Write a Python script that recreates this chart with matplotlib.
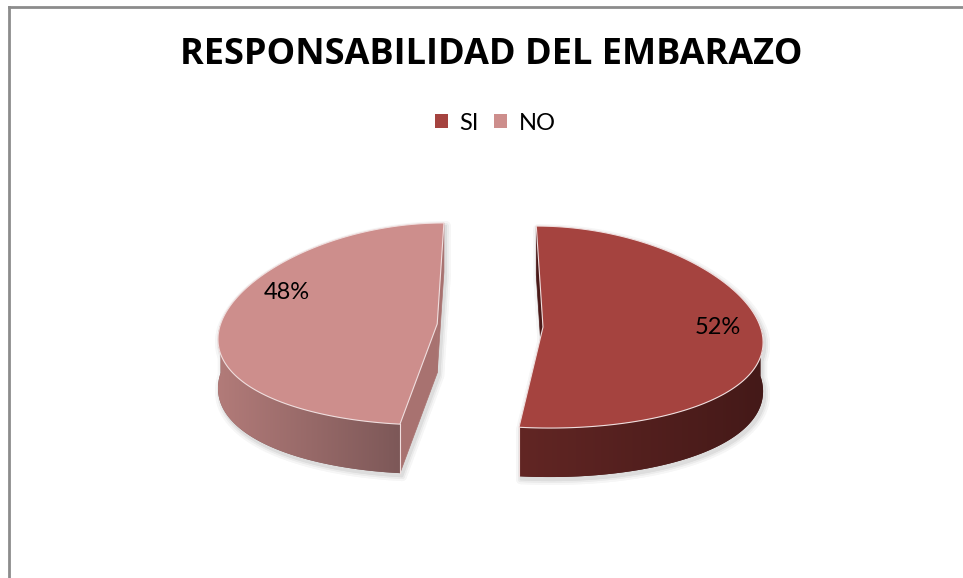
import numpy as np
import matplotlib.pyplot as plt
from matplotlib.colors import LinearSegmentedColormap
from matplotlib.patches import Polygon, Patch
from matplotlib.lines import Line2D

labels = ['SI', 'NO']
values = [52, 48]
top_colors = ['#A5433F', '#CD8E8C']
side_colors = [('#622624', '#441918'), ('#B27B79', '#7D5858')]
cut_colors = ['#4A1A19', '#A87270']

title = 'RESPONSABILIDAD DEL EMBARAZO'

W, H = 963, 578
CX, CY = 490, 325.5      # pie centre (pixels)
RX, RY = 217, 101        # ellipse radii
DEPTH = 49
EXPLODE = 53
PERSP = 0.127            # front wider than back
LABEL_R = [0.8, 0.7]
LABEL_DY = [-5, -27]
EDGE = '#f0dede'
SHADOW = [(7, '#f6f6f6'), (4, '#ebebeb'), (1.5, '#dddddd')]
SHADOW_OFF = (2, 3)


def to_screen(X, v, z=0.0):
    # v: -1 back .. +1 front of the ellipse, z: 0 top face, 1 bottom
    x = CX + (X - CX) * (1 + PERSP * v)
    y = CY + v * RY + z * DEPTH
    return x, y


def rim(ox, ov, t, z=0.0):
    t = np.radians(t)
    return to_screen(CX + ox + RX * np.sin(t), ov - np.cos(t), z)


def shoelace(pts):
    x, y = np.array(pts).T
    return 0.5 * np.sum(x * np.roll(y, -1) - np.roll(x, -1) * y)


fig = plt.figure(figsize=(W / 100, H / 100), dpi=100)
ax = fig.add_axes([0, 0, 1, 1])
ax.set_xlim(0, W)
ax.set_ylim(H, 0)
ax.axis('off')

total = sum(values)
slices = []
start = 0.0
for val in values:
    span = 360.0 * val / total
    slices.append((start, start + span))
    start += span

# soft shadow under the slices
shapes = []
for t1, t2 in slices:
    mid = np.radians((t1 + t2) / 2)
    ox = EXPLODE * np.sin(mid)
    ov = -EXPLODE * np.cos(mid) / RX
    ts = np.linspace(t1, t2, 200)
    for z in (0, 1):
        shapes.append([to_screen(CX + ox, ov, z)] + [rim(ox, ov, t, z) for t in ts])
    a, b = max(t1, 90), min(t2, 270)
    if b > a:
        tw = np.linspace(a, b, 100)
        shapes.append([rim(ox, ov, t, 0) for t in tw] + [rim(ox, ov, t, 1) for t in tw[::-1]])
    for t in (t1, t2):
        shapes.append([to_screen(CX + ox, ov, 0), rim(ox, ov, t, 0),
                       rim(ox, ov, t, 1), to_screen(CX + ox, ov, 1)])
for lw, col in SHADOW:
    for pts in shapes:
        p = [(x + SHADOW_OFF[0], y + SHADOW_OFF[1]) for x, y in pts]
        ax.add_patch(Polygon(p, closed=True, facecolor=col, edgecolor=col, lw=lw,
                             joinstyle='round'))

for i, (t1, t2) in enumerate(slices):
    val = values[i]
    mid = np.radians((t1 + t2) / 2)
    ox = EXPLODE * np.sin(mid)
    ov = -EXPLODE * np.cos(mid) / RX

    c_top = to_screen(CX + ox, ov, 0)
    c_bot = to_screen(CX + ox, ov, 1)

    # cut faces, back one first
    faces = []
    for t, sign in ((t1, -1), (t2, 1)):
        pts = [c_top, rim(ox, ov, t, 0), rim(ox, ov, t, 1), c_bot]
        if shoelace(pts) * sign > 0:
            faces.append((-np.cos(np.radians(t)), pts))
    for _, pts in sorted(faces, key=lambda f: f[0]):
        ax.add_patch(Polygon(pts, closed=True, facecolor=cut_colors[i],
                             edgecolor=cut_colors[i], lw=0.5))

    # outer wall, gradient from left to right clipped to the wall shape
    a, b = max(t1, 90), min(t2, 270)
    if b > a:
        tw = np.linspace(a, b, 120)
        wall = [rim(ox, ov, t, 0) for t in tw] + [rim(ox, ov, t, 1) for t in tw[::-1]]
        wx, wy = np.array(wall).T
        cmap = LinearSegmentedColormap.from_list(f'wall{i}', side_colors[i])
        base = Polygon(wall, closed=True, facecolor=side_colors[i][1],
                       edgecolor='none')
        ax.add_patch(base)
        im = ax.imshow(np.linspace(0, 1, 256)[None, :], cmap=cmap, aspect='auto',
                       extent=(wx.min(), wx.max(), wy.max(), wy.min()),
                       interpolation='bilinear', zorder=1)
        im.set_clip_path(base)
        for t in (a, b):
            if t in (t1, t2):
                p0, p1 = rim(ox, ov, t, 0), rim(ox, ov, t, 1)
                ax.add_line(Line2D([p0[0], p1[0]], [p0[1], p1[1]], color=EDGE,
                                   lw=0.8, zorder=1.5))

    # top face
    ts = np.linspace(t1, t2, 200)
    pts = [c_top] + [rim(ox, ov, t) for t in ts]
    ax.add_patch(Polygon(pts, closed=True, facecolor=top_colors[i],
                         edgecolor=EDGE, lw=0.8, joinstyle='round', zorder=2))

    # percentage label
    lx, ly = to_screen(CX + ox + LABEL_R[i] * RX * np.sin(mid),
                       ov - LABEL_R[i] * np.cos(mid))
    ax.text(lx, ly + LABEL_DY[i], f'{val}%', ha='center', va='center', zorder=3,
            fontsize=17, family=['Lato', 'DejaVu Sans'], color='black')

ax.set_xlim(0, W)
ax.set_ylim(H, 0)

ax.text(491, 55, title, ha='center', va='center', fontsize=26, weight='bold',
        family=['Open Sans', 'DejaVu Sans'])

handles = [Patch(facecolor=c, edgecolor='none') for c in top_colors]
ax.legend(handles, labels, ncol=2, loc='center', bbox_to_anchor=(0.5145, 1 - 123 / H),
          frameon=False, handlelength=0.55, handleheight=0.55, handletextpad=0.5,
          columnspacing=0.65, prop={'family': 'Lato', 'size': 17})

# chart frame
ax.add_line(Line2D([9, 9], [7, H], color='#8c8c8c', lw=2))
ax.add_line(Line2D([9, W], [7, 7], color='#8c8c8c', lw=2))

fig.savefig('out.png', dpi=100)
